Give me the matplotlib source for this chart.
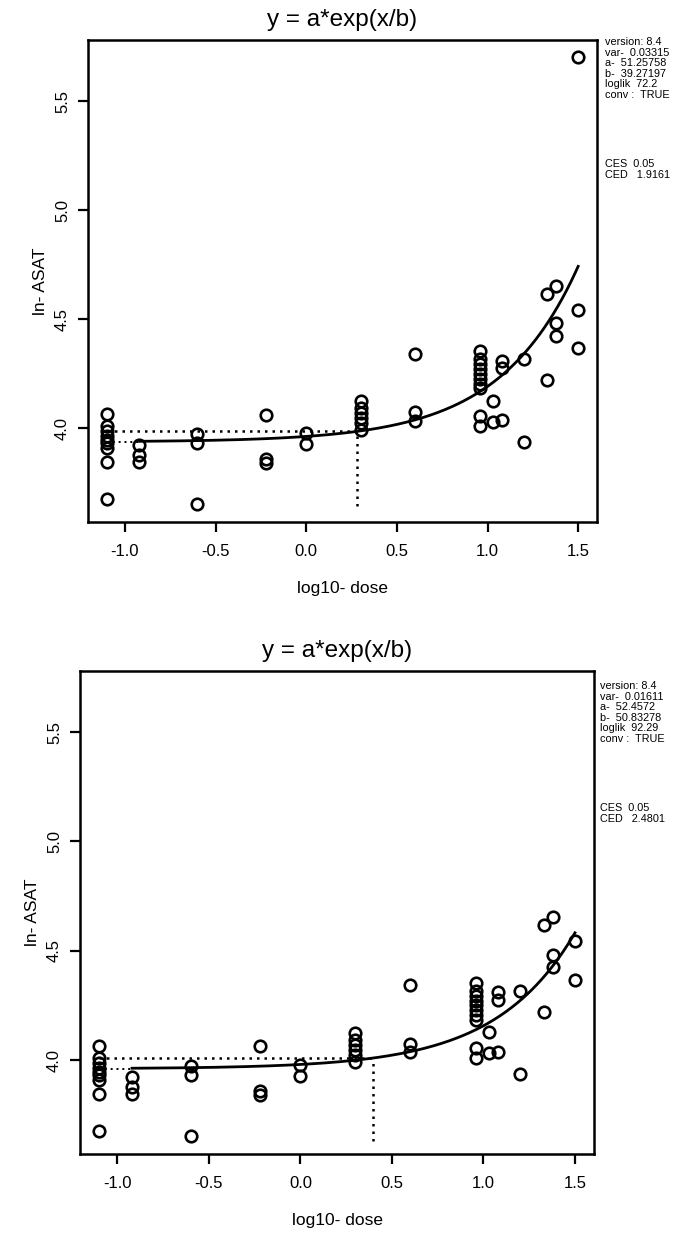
import matplotlib
matplotlib.use('Agg')
import matplotlib.pyplot as plt
import numpy as np

plt.rcParams['font.family'] = ['Liberation Sans', 'DejaVu Sans']

# ---------------- data ----------------
x_pts = [-1.1] * 9 + [-0.92] * 3 + [-0.6] * 3 + [-0.22] * 3 + [0.0] * 2 + [0.3] * 6 \
    + [0.6] * 3 + [0.96] * 10 + [1.03] * 2 + [1.08] * 3 + [1.2] * 2 + [1.33] * 2 \
    + [1.38] * 3 + [1.5] * 2
y_pts = [4.065, 4.01, 3.985, 3.965, 3.945, 3.93, 3.91, 3.846, 3.677,
         3.922, 3.877, 3.846,
         3.974, 3.93, 3.652,
         4.062, 3.86, 3.84,
         3.976, 3.927,
         4.123, 4.093, 4.07, 4.045, 4.024, 3.99,
         4.341, 4.073, 4.035,
         4.352, 4.318, 4.295, 4.272, 4.25, 4.227, 4.204, 4.184, 4.055, 4.009,
         4.126, 4.03,
         4.31, 4.275, 4.037,
         4.316, 3.937,
         4.616, 4.22,
         4.653, 4.481, 4.425,
         4.543, 4.367]
outlier_x = [1.5]
outlier_y = [5.70]

# fitted parameters per panel
a_vals = [51.25758, 52.4572]
b_vals = [39.27197, 50.83278]
ces = 0.05
ced_vals = [1.9161, 2.4801]
info_texts = [
    ["version: 8.4", "var-  0.03315", "a-  51.25758", "b-  39.27197", "loglik  72.2", "conv :  TRUE"],
    ["version: 8.4", "var-  0.01611", "a-  52.4572", "b-  50.83278", "loglik  92.29", "conv :  TRUE"],
]
ced_texts = [["CES  0.05", "CED   1.9161"], ["CES  0.05", "CED   2.4801"]]

x_ticks = [-1.0, -0.5, 0.0, 0.5, 1.0, 1.5]
x_ticklabels = ["-1.0", "-0.5", "0.0", "0.5", "1.0", "1.5"]
y_ticks = [4.0, 4.5, 5.0, 5.5]
y_ticklabels = ["4.0", "4.5", "5.0", "5.5"]
title = "y = a*exp(x/b)"
xlabel = "log10- dose"
ylabel = "ln- ASAT"

# ---------------- layout ----------------
W, H = 687, 1234
fig = plt.figure(figsize=(W / 100, H / 100), dpi=100)
boxes = [(88, 40, 597, 522), (80, 671, 594, 1154)]
info_y = [(42, 164), (686, 808)]
info_x = [605, 600]
vline_bottom = [3.642, 3.628]
dot = (0, (1, 2.0))

for i, (l, t, r, b) in enumerate(boxes):
    ax = fig.add_axes([l / W, 1 - b / H, (r - l) / W, (b - t) / H])
    ax.set_xlim(-1.204, 1.604)
    ax.set_ylim(3.57, 5.78)

    a, bb, ced = a_vals[i], b_vals[i], ced_vals[i]
    lna = np.log(a)
    ced_log = np.log10(ced)
    y_ces = lna + np.log(1 + ces)

    # dotted reference lines
    ax.plot([-1.1, ced_log], [y_ces, y_ces], color='k', lw=1.8, ls=dot, dash_capstyle='butt')
    ax.plot([ced_log, ced_log], [vline_bottom[i], y_ces], color='k', lw=1.8, ls=dot, dash_capstyle='butt')
    ax.plot([-1.1, -0.92], [lna, lna], color='k', lw=1.4, ls=dot, dash_capstyle='butt')

    # fitted curve
    xc = np.linspace(-0.92, 1.5, 300)
    ax.plot(xc, lna + 10 ** xc / bb, color='k', lw=2.0)

    # data points
    ax.plot(x_pts, y_pts, 'o', mfc='none', mec='k', ms=8.3, mew=1.9)
    if i == 0:
        ax.plot(outlier_x, outlier_y, 'o', mfc='none', mec='k', ms=8.3, mew=1.9)

    ax.set_xticks(x_ticks)
    ax.set_xticklabels(x_ticklabels)
    ax.set_yticks(y_ticks)
    ax.set_yticklabels(y_ticklabels, rotation=90, va='center')
    ax.tick_params(axis='both', direction='out', length=7, width=1.6, labelsize=12, color='k')
    ax.tick_params(axis='x', pad=9)
    ax.tick_params(axis='y', pad=6)
    for s in ax.spines.values():
        s.set_linewidth(1.8)
    ax.set_title(title, fontsize=17.5, pad=10)
    ax.set_xlabel(xlabel, fontsize=12.5, labelpad=16)
    ax.set_ylabel(ylabel, fontsize=12.5, labelpad=5)

    # side text
    y0, yc = info_y[i]
    for k, line in enumerate(info_texts[i]):
        fig.text(info_x[i] / W, 1 - (y0 + k * 10.6) / H, line, fontsize=7.8, va='center', ha='left')
    for k, line in enumerate(ced_texts[i]):
        fig.text(info_x[i] / W, 1 - (yc + k * 10.8) / H, line, fontsize=7.8, va='center', ha='left')

fig.savefig('out.png', dpi=100)
